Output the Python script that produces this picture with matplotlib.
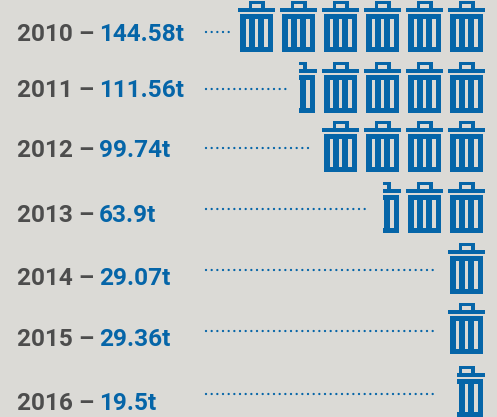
#!/usr/bin/env python3
"""Tonnes of waste per year as rows of bin icons."""
import matplotlib
matplotlib.use("Agg")
import matplotlib.pyplot as plt
from matplotlib.patches import PathPatch, Rectangle
from matplotlib.path import Path

years = ["2010", "2011", "2012", "2013", "2014", "2015", "2016"]
values = ["144.58t", "111.56t", "99.74t", "63.9t", "29.07t", "29.36t", "19.5t"]
bins = [6, 4.5, 4, 2.5, 1, 1, 0.75]

BG = "#dbdad6"
BLUE = "#0565a8"
GREY = "#4d4d4d"

# pixel layout of the rows
ICON_TOP = [1, 62, 121, 182, 243, 303, 366]
LINE_Y = [32, 88.5, 148, 209, 270, 331, 394]
TEXT_Y = [32, 88, 148, 213, 276, 337, 401]
LINE_END = [233, 287, 311, 370, 438, 438, 438]
RIGHT = 485
PITCH = 42
LID_W = 37
FONT = 17.6


def rect(x0, y0, x1, y1):
    return [(x0, y0), (x1, y0), (x1, y1), (x0, y1), (x0, y0)]


def bin_path(cx, top):
    verts, codes = [], []
    parts = [rect(cx - 18.5, top + 6.6, cx + 18.5, top + 11.2),  # lid
             rect(cx - 16.5, top + 12.7, cx + 16.5, top + 51.3),  # body
             rect(cx - 11, top + 18, cx - 7.4, top + 45.7)[::-1],
             rect(cx - 1.8, top + 18, cx + 1.8, top + 45.7)[::-1],
             rect(cx + 7.4, top + 18, cx + 11, top + 45.7)[::-1],
             rect(cx - 8, top, cx + 8, top + 7),                  # handle
             rect(cx - 4.6, top + 3.4, cx + 4.6, top + 7)[::-1]]
    for p in parts:
        verts += p
        codes += [Path.MOVETO] + [Path.LINETO] * 3 + [Path.CLOSEPOLY]
    return Path(verts, codes)


fig = plt.figure(figsize=(4.97, 4.17), dpi=100, facecolor=BG)
ax = fig.add_axes([0, 0, 1, 1])
ax.set_xlim(0, 497)
ax.set_ylim(417, 0)
ax.axis("off")

for i, (yr, val, n) in enumerate(zip(years, values, bins)):
    t = ax.text(17, TEXT_Y[i], f"{yr} – ", color=GREY, fontsize=FONT, family="Roboto",
                fontweight="bold", va="center_baseline", ha="left")
    ax.annotate(val, xy=(1, 0), xycoords=t, xytext=(-1.2, 0), textcoords="offset points",
                color=BLUE, fontsize=FONT, family="Roboto",
                fontweight="bold", va="bottom", ha="left")
    ax.plot([206, LINE_END[i]], [LINE_Y[i]] * 2, color=BLUE, lw=1.7,
            dashes=(0.01, 2.39), dash_capstyle="round")

    # whole bins from the right, a cut one on the left when n is fractional
    whole = int(n)
    frac = n - whole
    for k in range(whole + (frac > 0)):
        cx = RIGHT - LID_W / 2 - k * PITCH
        patch = PathPatch(bin_path(cx, ICON_TOP[i]), fc=BLUE, ec="none")
        ax.add_patch(patch)
        if k == whole:
            x0 = cx + LID_W / 2 - frac * LID_W
            patch.set_clip_path(Rectangle((x0, 0), LID_W, 417, transform=ax.transData))

fig.savefig("out.png", dpi=100, facecolor=BG)
